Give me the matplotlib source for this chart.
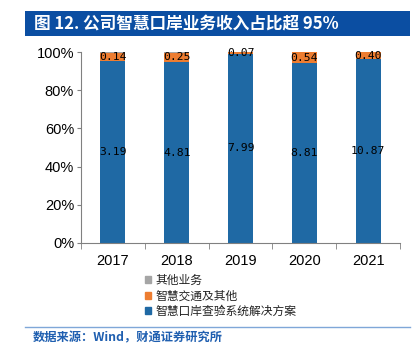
import matplotlib
matplotlib.use("Agg")
import matplotlib.pyplot as plt
import numpy as np
from matplotlib.patches import Rectangle
from matplotlib.lines import Line2D

plt.rcParams["font.family"] = ["Noto Sans CJK SC", "DejaVu Sans"]

YEARS = ["2017", "2018", "2019", "2020", "2021"]
PORT = [3.19, 4.81, 7.99, 8.81, 10.87]      # 智慧口岸查验系统解决方案
TRAFFIC = [0.14, 0.25, 0.07, 0.54, 0.40]    # 智慧交通及其他
OTHER = [0.02, 0.02, 0.01, 0.01, 0.01]      # 其他业务
SERIES_NAMES = ["智慧口岸查验系统解决方案", "智慧交通及其他", "其他业务"]

BLUE = "#1F69A4"
ORANGE = "#ED7D31"
GRAY = "#A5A5A5"
BANNER = "#0B4EA2"

fig = plt.figure(figsize=(4.18, 3.49), dpi=100)
fig.patch.set_facecolor("white")

# title banner
fig.patches.append(Rectangle((25 / 418, 1 - 36 / 349), 385 / 418, 25 / 349,
                             transform=fig.transFigure, facecolor=BANNER, edgecolor="none"))
fig.text(34 / 418, 1 - 24 / 349, "图 12. 公司智慧口岸业务收入占比超 95%", color="white",
         fontsize=12, fontweight="bold", va="center", ha="left")

ax = fig.add_axes([81 / 418, 1 - 243 / 349, 319 / 418, 191 / 349])

port = np.array(PORT)
traffic = np.array(TRAFFIC)
other = np.array(OTHER)
total = port + traffic + other
p_port = port / total
p_traffic = traffic / total
p_other = other / total

x = np.arange(len(YEARS))
w = 0.39
ax.bar(x, p_port, width=w, color=BLUE)
ax.bar(x, p_traffic, width=w, bottom=p_port, color=ORANGE)
ax.bar(x, p_other, width=w, bottom=p_port + p_traffic, color=GRAY)

for i in range(len(YEARS)):
    ax.text(x[i], p_port[i] / 2, f"{PORT[i]:.2f}", ha="center", va="center",
            fontsize=8.2, color="black", family="DejaVu Sans Mono")
    ax.text(x[i], p_port[i] + p_traffic[i] / 2, f"{TRAFFIC[i]:.2f}",
            ha="center", va="center", fontsize=8.2, color="black", family="DejaVu Sans Mono")

ax.set_xlim(-0.5, 4.5)
ax.set_ylim(0, 1)
ax.set_yticks(np.arange(0, 1.01, 0.2))
ax.set_yticklabels([f"{int(round(v * 100))}%" for v in np.arange(0, 1.01, 0.2)],
                   family="Liberation Sans", fontsize=10.5)
ax.set_xticks(x)
ax.set_xticklabels(YEARS, family="Liberation Sans", fontsize=10.5)
ax.set_xticks(np.arange(-0.5, 4.6, 1), minor=True)
ax.tick_params(axis="x", which="major", length=0, pad=8)
ax.tick_params(axis="x", which="minor", length=4, color="#808080", direction="out")
ax.tick_params(axis="y", length=3, color="#808080", direction="out", pad=2)
for side in ["top", "right"]:
    ax.spines[side].set_visible(False)
for side in ["left", "bottom"]:
    ax.spines[side].set_color("#808080")

handles = [Rectangle((0, 0), 1, 1, color=GRAY),
           Rectangle((0, 0), 1, 1, color=ORANGE),
           Rectangle((0, 0), 1, 1, color=BLUE)]
fig.legend(handles, SERIES_NAMES[::-1], loc="upper left",
           bbox_to_anchor=(145 / 418, 1 - 274 / 349), frameon=False, fontsize=8.5,
           handlelength=0.5, handleheight=0.5, handletextpad=0.35, labelspacing=0.2,
           borderaxespad=0, borderpad=0, labelcolor="#222222")

# bottom rule and source
fig.add_artist(Line2D([25 / 418, 410 / 418], [1 - 327 / 349, 1 - 327 / 349],
                      transform=fig.transFigure, color="#7FA7D8", linewidth=1))
fig.text(33 / 418, 1 - 338 / 349, "数据来源：Wind，财通证券研究所", color="#1F5FB0",
         fontsize=8.8, fontweight="bold", va="center", ha="left")

fig.savefig("out.png", dpi=100, facecolor="white")
